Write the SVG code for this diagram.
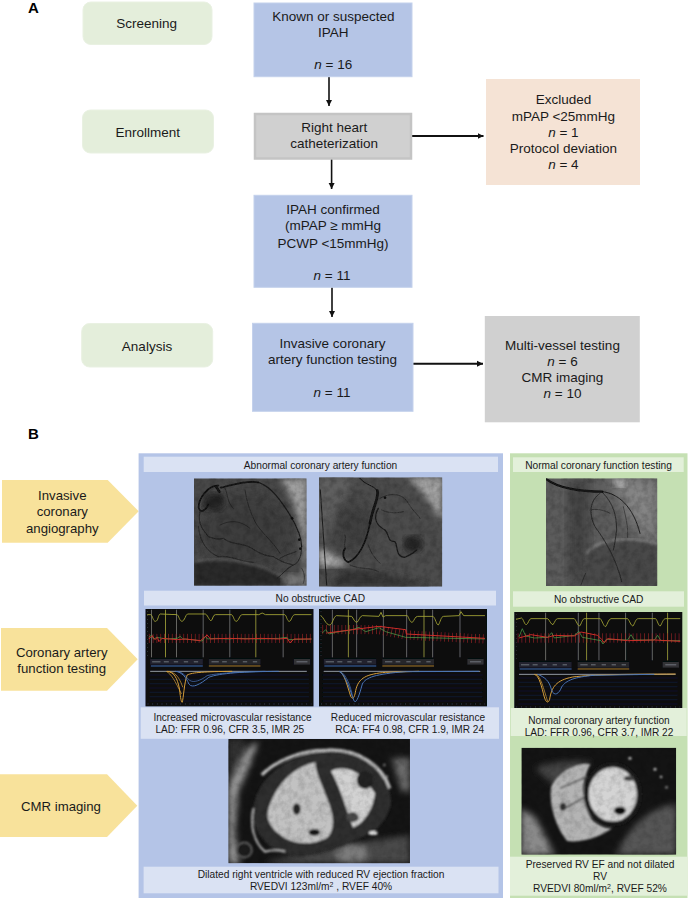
<svg xmlns="http://www.w3.org/2000/svg" width="691" height="900" viewBox="0 0 691 900">
<style>
text{font-family:"Liberation Sans",Arial,sans-serif;fill:#1a1a1a;text-anchor:middle}
.f{font-size:13.5px}.s{font-size:10.2px}.m{font-size:10.1px}.y{font-size:13.2px}
.l{font-size:15px;font-weight:bold;text-anchor:start;fill:#000}
.pill{fill:#E4EEDB;stroke:#E9F1E2}.blue{fill:#B5C5E6;stroke:#C4D1EC}
.strip{fill:#DAE2F3}.gstrip{fill:#E3F0DA}.tag{fill:#F8E29B}
.c{fill:none;stroke:#111;stroke-width:1.6}.ch{fill:none;stroke:#111;stroke-width:2}
.v{fill:none;stroke:#121212;stroke-linecap:round;stroke-linejoin:round}
.yl{fill:none;stroke:#A0A032;stroke-width:2.800}.gl{stroke:#6F6F6A;stroke-width:2.800}.yv{stroke:#8E8E34;stroke-width:3}
.rd{fill:none;stroke:#CC2E28;stroke-width:3}.gn{fill:none;stroke:#4FA048;stroke-width:2.200}
.rc{fill:none;stroke:#A82A26;stroke-width:28;stroke-dasharray:2.500 9;opacity:.75}
.or{fill:none;stroke:#D8A038;stroke-width:3}.bl{fill:none;stroke:#4B74B4;stroke-width:3}
</style>
<defs>
<marker id="ah" markerUnits="userSpaceOnUse" markerWidth="7" markerHeight="7" refX="6" refY="3.5" orient="auto"><path d="M0,.5L6,3.5L0,6.500Z" fill="#111"/></marker>
<filter id="b0" x="-3%" y="-3%" width="106%" height="106%"><feGaussianBlur stdDeviation="1.4"/></filter>
<filter id="bv" x="-5%" y="-5%" width="110%" height="110%"><feGaussianBlur stdDeviation="1.800"/></filter>
<filter id="bm" x="-5%" y="-5%" width="110%" height="110%"><feGaussianBlur stdDeviation="2.600"/></filter>
<filter id="b1" x="-5%" y="-5%" width="110%" height="110%"><feGaussianBlur stdDeviation="4"/></filter>
<filter id="b2" x="-10%" y="-10%" width="120%" height="120%"><feGaussianBlur stdDeviation="9"/></filter>
<filter id="b3" x="-30%" y="-30%" width="160%" height="160%"><feGaussianBlur stdDeviation="22"/></filter>
<filter id="n" x="0" y="0" width="1" height="1" color-interpolation-filters="sRGB"><feTurbulence type="fractalNoise" baseFrequency=".05" numOctaves="3" seed="4"/><feColorMatrix values="0 0 0 0 0 0 0 0 0 0 0 0 0 0 0 1.6 0 0 0 -.6"/></filter>
<clipPath id="ca1"><rect x="12" y="10" width="338" height="322"/></clipPath>
<clipPath id="ca2"><rect x="27" y="22" width="370" height="328"/></clipPath>
<clipPath id="ca3"><rect x="153" y="85" width="334" height="323"/></clipPath>
<clipPath id="cm1"><rect x="10" y="12" width="545" height="373"/></clipPath>
<clipPath id="cm2"><rect x="1092" y="8" width="432" height="321"/></clipPath>
<g id="frame">
<rect width="504" height="292" fill="#07080f"/>
<path d="M12,198H490M12,211H490M12,224H490M12,237H490M12,250H490M12,263H490M12,276H490" stroke="#1a2744" stroke-width="1.6"/>
<path d="M6,285H498" stroke="#565a66" stroke-width="2.4" stroke-dasharray="3 11"/>
<path d="M6,6V140" stroke="#555" stroke-width="2.4" stroke-dasharray="2 10"/>
<path d="M14,187H484" stroke="#AEB6BE" stroke-width="2.6"/>
<rect x="14" y="150" width="158" height="17" fill="#20242f"/><rect x="190" y="150" width="155" height="17" fill="#26262a"/><rect x="445" y="150" width="49" height="17" fill="#303136"/>
<path d="M20,158.500H45M55,158.500H70M85,158.500H98M115,158.500H128M145,158.500H158M198,158.500H220M230,158.500H244M262,158.500H275M292,158.500H305M322,158.500H335M453,158.500H486" stroke="#70747c" stroke-width="3"/>
<path d="M16,171H172" stroke="#4A78C0" stroke-width="2.800"/><path d="M190,171H345" stroke="#C08A30" stroke-width="2.800"/>
</g>
</defs>

<g id="connectors">
<path class="c" d="M329,77V106" marker-end="url(#ah)"/>
<path class="ch" d="M412,136H483.500" marker-end="url(#ah)"/>
<path class="c" d="M331.600,159V189" marker-end="url(#ah)"/>
<path class="c" d="M332,287V317" marker-end="url(#ah)"/>
<path class="ch" d="M413,363.700H483" marker-end="url(#ah)"/>
</g>

<text class="l" x="28" y="13">A</text>
<text class="l" x="28" y="439">B</text>

<g id="screening"><rect class="pill" x="83" y="2" width="129" height="42.500" rx="8"/><text class="f" x="146.600" y="28.300">Screening</text></g>
<g id="enrollment"><rect class="pill" x="82.500" y="110" width="131" height="43" rx="8"/><text class="f" x="147.700" y="136.700">Enrollment</text></g>
<g id="analysis"><rect class="pill" x="81.700" y="323.500" width="131" height="43.500" rx="8"/><text class="f" x="147" y="350.700">Analysis</text></g>

<g id="known"><rect class="blue" x="254" y="3" width="158" height="73.700"/><text class="f" x="333.300" y="20.700">Known or suspected</text><text class="f" x="333.300" y="37.300">IPAH</text><text class="f" x="333.300" y="69.300"><tspan font-style="italic">n</tspan> = 16</text></g>
<g id="rhc"><rect x="255" y="114" width="156" height="44.500" fill="#D0D0D0" stroke="#C4C4C4" stroke-width="2.500"/><text class="f" x="334.200" y="132">Right heart</text><text class="f" x="334.200" y="148">catheterization</text></g>
<g id="excluded"><rect x="486" y="79" width="154" height="106" fill="#F5E3D5"/><text class="f" x="563.400" y="104.300">Excluded</text><text class="f" x="563.400" y="120.700">mPAP &lt;25mmHg</text><text class="f" x="563.400" y="136.700"><tspan font-style="italic">n</tspan> = 1</text><text class="f" x="563.400" y="152.700">Protocol deviation</text><text class="f" x="563.400" y="168.700"><tspan font-style="italic">n</tspan> = 4</text></g>
<g id="confirmed"><rect class="blue" x="254" y="195.300" width="158" height="92"/><text class="f" x="333" y="214">IPAH confirmed</text><text class="f" x="333" y="230">(mPAP ≥ mmHg</text><text class="f" x="333" y="248">PCWP &lt;15mmHg)</text><text class="f" x="332" y="280"><tspan font-style="italic">n</tspan> = 11</text></g>
<g id="invasive"><rect class="blue" x="252.500" y="323.300" width="160.500" height="88"/><text class="f" x="332.500" y="348.300">Invasive coronary</text><text class="f" x="332.500" y="364.300">artery function testing</text><text class="f" x="332" y="396.700"><tspan font-style="italic">n</tspan> = 11</text></g>
<g id="multi"><rect x="484.800" y="316" width="155" height="106.300" fill="#D0D0D0"/><text class="f" x="562.500" y="350">Multi-vessel testing</text><text class="f" x="562.500" y="366"><tspan font-style="italic">n</tspan> = 6</text><text class="f" x="562.500" y="382">CMR imaging</text><text class="f" x="562.500" y="398"><tspan font-style="italic">n</tspan> = 10</text></g>

<g id="tag-angiography"><path class="tag" d="M2,480H107.700L138.700,511.300L107.700,542.700H2Z"/><text class="y" x="62.300" y="500">Invasive</text><text class="y" x="62.300" y="516.300">coronary</text><text class="y" x="62.300" y="532.700">angiography</text></g>
<g id="tag-function"><path class="tag" d="M1,628H107L137.700,659.300L107,690.700H1Z"/><text class="y" x="61.700" y="656.700">Coronary artery</text><text class="y" x="61.700" y="672.700">function testing</text></g>
<g id="tag-cmr"><path class="tag" d="M0,774.300H107L137.300,805.700L107,837H0Z"/><text class="y" x="61" y="811">CMR imaging</text></g>

<g id="panel-abnormal">
<rect x="138.600" y="453.300" width="364.400" height="444.700" fill="#B4C4E7"/>
<rect class="strip" x="143.700" y="456.700" width="354.300" height="15.300"/><text class="s" x="320.500" y="468.500">Abnormal coronary artery function</text>

<g id="angio1" transform="translate(190 475) scale(.3333)"><g clip-path="url(#ca1)">
<rect x="12" y="10" width="338" height="322" fill="#484848"/>
<ellipse cx="170" cy="170" rx="140" ry="120" fill="#3E3E3E" filter="url(#b3)"/>
<path d="M270,10H350V332H336C350,230 330,90 270,10Z" fill="#A0A0A0" filter="url(#b2)"/>
<path d="M12,262C70,245 190,252 275,305L290,332H12Z" fill="#2A2A2A" filter="url(#b1)"/>
<path d="M12,262C70,245 190,252 275,305" fill="none" stroke="#707070" stroke-width="4" filter="url(#b1)"/>
<path d="M280,300C300,290 330,300 350,320V332H280Z" fill="#787878" filter="url(#b2)"/>
<ellipse cx="72" cy="80" rx="32" ry="26" fill="#202020" filter="url(#b2)"/>
<rect x="12" y="10" width="338" height="322" filter="url(#n)" opacity=".25"/>
<g filter="url(#bv)">
<path class="v" stroke-width="5" d="M85,32C55,30 25,70 26,98C30,115 48,108 55,88"/>
<path class="v" stroke-width="5" d="M92,38C125,30 170,15 205,22"/>
<path class="v" stroke-width="3.500" d="M205,22C245,35 275,80 300,120C315,145 335,185 335,215" stroke-opacity=".85"/>
<path class="v" stroke-width="2.500" d="M335,215C335,245 325,265 310,270C290,280 280,295 262,310" stroke-opacity=".8"/>
<path class="v" stroke-width="2.400" d="M30,110C20,150 45,170 55,185C70,190 85,195 100,190C120,205 140,205 160,210C190,215 200,240 250,245C290,270 300,265 310,270" stroke-opacity=".8"/>
<path class="v" stroke-width="2.200" d="M25,155C30,200 50,230 85,245C120,240 150,260 190,262" stroke-opacity=".7"/>
<path class="v" stroke-width="2" d="M165,45C170,80 180,110 195,140C210,170 250,200 270,235" stroke-opacity=".6"/>
<path class="v" stroke-width="2" d="M105,40C115,60 110,80 130,100M90,150C120,135 150,135 180,160" stroke-opacity=".55"/>
<path class="v" stroke-width="2" d="M335,280C345,295 345,310 340,325M318,230C305,235 285,240 270,250" stroke-opacity=".7"/>
<circle cx="306" cy="130" r="4" fill="#111"/><circle cx="328" cy="194" r="4" fill="#111"/><circle cx="331" cy="221" r="4" fill="#111"/>
<path class="v" stroke-width="8" d="M78,34L88,50"/>
</g></g></g>

<g id="angio2" transform="translate(310 470) scale(.3333)"><g clip-path="url(#ca2)">
<rect x="27" y="22" width="370" height="328" fill="#4C4C4C"/>
<path d="M290,22H397V160C370,110 340,60 290,22Z" fill="#A4A4A4" filter="url(#b2)"/>
<path d="M27,22H130L50,200L27,220Z" fill="#5E5E5E" filter="url(#b2)"/>
<path d="M27,230L120,285L40,290L27,290Z" fill="#B0B0B0" filter="url(#b2)"/>
<path d="M100,300C200,300 300,330 370,350H60Z" fill="#363636" filter="url(#b2)"/>
<ellipse cx="310" cy="222" rx="28" ry="24" fill="#242424" filter="url(#b2)"/>
<ellipse cx="130" cy="170" rx="50" ry="70" fill="#3c3c3c" filter="url(#b3)"/>
<rect x="27" y="22" width="370" height="328" filter="url(#n)" opacity=".25"/>
<g filter="url(#bv)">
<path class="v" stroke-width="3" d="M31,60L50,345" stroke-opacity=".85"/>
<path class="v" stroke-width="3" d="M150,25C165,45 190,45 202,62"/>
<path class="v" stroke-width="8" d="M202,62C208,85 188,110 180,160"/>
<path class="v" stroke-width="5" d="M180,160C170,210 150,260 115,277C100,270 95,250 105,235"/>
<path class="v" stroke-width="3.500" d="M205,115C190,140 195,165 225,180C240,195 230,215 255,215C265,230 255,260 285,262C300,255 310,250 320,240" stroke-opacity=".85"/>
<path class="v" stroke-width="2" d="M210,85C235,70 275,65 295,100C310,125 325,135 330,145M215,120C235,130 260,130 280,125M175,225C180,240 185,255 210,280M120,285C150,300 180,290 205,305M105,235C100,220 110,205 105,195" stroke-opacity=".65"/>
<circle cx="225" cy="83" r="4" fill="#111"/>
</g></g></g>

<rect class="strip" x="144" y="590.700" width="352" height="14.800"/><text class="s" x="320.300" y="602">No obstructive CAD</text>

<g id="chart1" transform="translate(145.500 609) scale(.3333)" filter="url(#b0)">
<use href="#frame"/>
<path class="gl" d="M18,2V145M93,2V145M173,2V145M253,2V145M413,2V145"/><path class="yv" d="M60,2V145M331,2V145"/>
<path class="yl" d="M5,17H16C22,20 22,37 30,37C38,37 38,17 44,15L95,17C100,20 102,37 110,37C118,35 120,17 126,15L178,15C186,14 190,35 197,35C203,30 202,17 210,17H258C264,20 266,37 272,37C280,37 282,17 290,17L340,17L350,12L360,17H418C424,20 424,37 432,37C438,35 440,17 448,17H498"/>
<path class="rc" d="M10,88H498"/>
<path class="gn" d="M10,85L18,78L24,90L35,85L60,90L95,88L104,82L112,90L140,92L170,96L180,82L186,90L210,88L250,90L280,88L340,90L400,88L424,85L430,92L498,90"/>
<path class="rd" d="M10,90L20,80L28,92L36,85L40,98L50,88L95,92L120,90L165,95L185,78L195,90L250,88L300,90L345,88L400,90L425,88L434,102L445,90L498,90"/>
<path class="or" d="M65,187C85,190 95,205 102,240C105,270 108,280 110,280C114,270 116,220 125,198C140,190 180,188 260,187"/>
<path class="or" stroke-opacity=".7" d="M62,187C78,195 88,215 108,255M70,187C85,192 98,195 112,235"/>
<path class="bl" d="M90,187C110,190 122,205 130,225C140,240 165,225 190,205C220,192 300,188 400,187"/>
<path class="bl" stroke-opacity=".75" d="M95,187C115,190 122,205 132,214C145,222 165,215 185,200C215,192 280,189 360,187"/>
</g>

<g id="chart2" transform="translate(319 609) scale(.3333)" filter="url(#b0)">
<use href="#frame"/>
<path class="gl" d="M40,2V145M113,2V145M193,2V145M263,2V145M341,2V145M423,2V145"/><path class="yv" d="M88,2V145M315,2V145"/>
<path class="yl" d="M5,20C15,25 20,48 32,48C42,45 42,25 52,20L98,22C104,28 106,40 114,40C120,35 122,22 130,20L180,22L186,10L192,24L200,20H265C270,26 272,40 280,40C286,35 288,22 296,22H342C350,28 352,48 358,48C364,40 366,22 374,22L420,20L426,8L434,20H498"/>
<path class="rc" d="M10,62L180,62L260,78L498,90"/>
<path class="gn" d="M10,72L20,62L30,75L50,70L100,62L120,55L140,68L180,56L200,68L260,85L498,90"/>
<path class="rd" d="M25,72L100,62L180,52L260,62L262,75L498,88"/>
<path class="or" d="M60,187C75,190 85,230 95,262C100,272 106,270 110,245C118,205 145,195 200,190L300,187"/>
<path class="bl" d="M60,187C80,195 95,250 105,275C110,285 118,270 130,225C140,205 170,195 260,188L480,187"/>
<path class="bl" stroke-opacity=".7" d="M62,187C82,193 98,240 100,262"/>
</g>

<rect class="strip" x="140.700" y="707.300" width="358.300" height="31.500"/>
<text class="m" x="232.500" y="721">Increased microvascular resistance</text><text class="m" x="229.800" y="733.300">LAD: FFR 0.96, CFR 3.5, IMR 25</text>
<text class="m" x="408" y="721">Reduced microvascular resistance</text><text class="m" x="409.700" y="733.300">RCA: FF4 0.98, CFR 1.9, IMR 24</text>

<g id="mri1" transform="translate(225 735) scale(.3333)"><g clip-path="url(#cm1)">
<rect x="10" y="12" width="545" height="373" fill="#141414"/>
<g filter="url(#b2)">
<path d="M10,150L40,90L70,35L100,20L75,90L40,170L30,290L45,385H10Z" fill="#979797"/>
<path d="M10,12H60L50,60L10,130Z" fill="#303030"/>
<path d="M120,385C200,350 300,355 420,320L555,300V385Z" fill="#4a4a4a"/>
<path d="M500,70H555V170H530Z" fill="#6a6a6a"/>
<ellipse cx="380" cy="355" rx="50" ry="30" fill="#7c7c7c"/>
</g>
<g filter="url(#bm)">
<path d="M85,250C75,150 170,55 310,48C420,42 490,110 498,195C500,230 470,275 440,295C370,325 320,345 250,360C170,370 100,330 85,250Z" fill="#2E2E2E"/>
<path d="M110,120C160,70 240,45 310,45C400,42 470,90 495,160" fill="none" stroke="#B8B8B8" stroke-width="10"/>
<path d="M85,220C75,270 85,320 120,350C140,345 160,345 180,350" fill="none" stroke="#A6A6A6" stroke-width="7"/>
<path d="M128,230C150,150 205,95 272,82C268,105 292,150 310,200C330,250 330,295 300,312C250,335 190,325 160,295C140,280 124,255 128,230Z" fill="#C2C2C2"/>
<path d="M318,108C350,92 395,102 425,140L450,175C445,222 420,262 385,278C368,240 352,170 318,108Z" fill="#D2D2D2"/>
<ellipse cx="420" cy="135" rx="25" ry="27" fill="#222"/>
<ellipse cx="382" cy="247" rx="19" ry="15" fill="#484848"/>
<ellipse cx="215" cy="222" rx="12" ry="17" fill="#282828"/>
<ellipse cx="268" cy="292" rx="17" ry="10" fill="#181818"/>
<circle cx="58" cy="345" r="23" fill="#1c1c1c" stroke="#606060" stroke-width="5"/>
<ellipse cx="445" cy="294" rx="13" ry="6" fill="#eee"/>
<circle cx="485" cy="125" r="4" fill="#999"/><circle cx="478" cy="90" r="4" fill="#888"/>
</g>
<rect x="10" y="12" width="545" height="373" filter="url(#n)" opacity=".18"/>
</g></g>

<rect class="strip" x="143.600" y="866.700" width="354.900" height="26.600"/>
<text class="s" x="321" y="877.700">Dilated right ventricle with reduced RV ejection fraction</text>
<text class="s" x="321" y="889.700">RVEDVI 123ml/m<tspan font-size="7" dy="-3">2</tspan><tspan dy="3"> , RVEF 40%</tspan></text>
</g>

<g id="panel-normal">
<rect x="510" y="453.300" width="177.500" height="444.700" fill="#C5E0B3"/>
<rect class="gstrip" x="513" y="457.300" width="170.700" height="14.700"/><text class="s" x="598.500" y="469">Normal coronary function testing</text>

<g id="angio3" transform="translate(495 450) scale(.3333)"><g clip-path="url(#ca3)">
<rect x="153" y="85" width="334" height="323" fill="#5C5C5C"/>
<path d="M225,85H280L275,408H225Z" fill="#3e3e3e" filter="url(#b3)"/>
<path d="M340,85H487V300L420,230Z" fill="#868686" filter="url(#b3)"/>
<ellipse cx="375" cy="100" rx="18" ry="11" fill="#c8c8c8" filter="url(#b2)"/>
<path d="M275,310C310,265 410,258 487,282V408H265Z" fill="#4a4a4a" filter="url(#b1)"/>
<path d="M275,310C310,265 410,258 487,282" fill="none" stroke="#9c9c9c" stroke-width="4" filter="url(#b1)"/>
<rect x="153" y="85" width="334" height="323" filter="url(#n)" opacity=".25"/>
<g filter="url(#bv)">
<path class="v" stroke-width="7" d="M155,88C190,115 260,125 322,125"/>
<path class="v" stroke-width="3" d="M322,125C370,130 415,170 435,250" stroke-opacity=".85"/>
<path class="v" stroke-width="2.500" d="M315,130C285,150 280,190 300,230C330,270 365,330 380,395" stroke-opacity=".8"/>
<path class="v" stroke-width="2.500" d="M320,125C345,150 365,180 365,240C362,260 360,280 355,300" stroke-opacity=".8"/>
<path class="v" stroke-width="2" d="M285,180C300,175 330,180 345,190M272,370C265,385 262,395 258,405M385,170C392,200 400,230 398,262" stroke-opacity=".6"/>
</g></g></g>

<rect class="gstrip" x="513" y="591.300" width="171" height="15.400"/><text class="s" x="598.700" y="603.300">No obstructive CAD</text>

<g id="chart3" transform="translate(514.300 612) scale(.3333)" filter="url(#b0)">
<use href="#frame"/>
<path class="gl" d="M94,2V145M192,2V145M254,2V145M334,2V145M414,2V145"/><path class="yv" d="M217,2V145M460,2V145"/>
<path class="yl" d="M5,22L22,18C28,22 30,38 36,38C42,36 44,20 50,20L100,20C106,24 110,38 116,38C122,30 124,20 130,20H180C186,26 190,42 196,42C202,36 204,18 212,20H258C264,26 268,44 274,44C280,36 282,22 290,20H340C346,26 350,42 356,42C362,34 364,20 372,20H424C430,26 432,42 438,42C444,34 446,20 454,20H498"/>
<path class="rc" d="M10,78H498"/>
<path class="gn" d="M14,75L24,50L34,72L60,78L100,76L112,62L120,78L180,70L194,58L204,76L260,86L266,96L276,82L340,84L350,68L360,84L420,84L430,70L440,86L498,86"/>
<path class="rd" d="M14,78L50,68L100,76L120,70L180,72L200,60L250,70L262,82L270,92L280,80L340,86L420,84L498,88"/>
<path class="or" d="M60,187C75,190 82,225 90,255C95,272 102,275 106,262C112,225 125,205 175,195C240,187 330,187 484,186"/>
<path class="or" stroke-opacity=".7" d="M65,187C78,190 88,230 100,268"/>
<path class="bl" d="M70,187C90,195 105,205 112,235C120,255 135,245 142,225C155,205 180,195 240,190L420,187"/>
</g>

<rect class="gstrip" x="510.700" y="708" width="176" height="28"/>
<text class="m" x="599" y="724.300">Normal coronary artery function</text><text class="m" x="599" y="736">LAD: FFR 0.96, CFR 3.7, IMR 22</text>

<g id="mri2" transform="translate(130 745) scale(.3584 .3333)"><g clip-path="url(#cm2)">
<rect x="1092" y="8" width="432" height="321" fill="#141414"/>
<g filter="url(#b2)">
<path d="M1092,190L1130,215L1185,329H1092Z" fill="#8a8a8a"/>
<path d="M1370,300C1420,205 1490,180 1524,178V329H1355Z" fill="#565656"/>
<path d="M1130,70C1170,50 1230,45 1290,50L1180,120Z" fill="#444"/>
</g>
<g filter="url(#bm)">
<path d="M1175,125C1200,70 1260,50 1285,58C1258,110 1258,170 1290,225C1310,245 1330,250 1345,250C1320,270 1270,295 1220,288C1190,250 1168,180 1175,125Z" fill="#B4B4B4"/>
<path d="M1200,130L1275,95M1205,195L1280,150" stroke="#555" stroke-width="5" fill="none"/>
<ellipse cx="1347" cy="148" rx="74" ry="88" fill="#D4D4D4" stroke="#1c1c1c" stroke-width="13"/>
<ellipse cx="1367" cy="197" rx="16" ry="12" fill="#0c0c0c"/>
<ellipse cx="1392" cy="100" rx="14" ry="8" fill="#444"/>
<circle cx="1395" cy="40" r="4" fill="#ddd"/><circle cx="1465" cy="73" r="4" fill="#ddd"/><circle cx="1482" cy="96" r="3.500" fill="#ccc"/><circle cx="1497" cy="127" r="3.500" fill="#bbb"/>
<ellipse cx="1208" cy="185" rx="9" ry="12" fill="#333"/>
</g>
<rect x="1092" y="8" width="432" height="321" filter="url(#n)" opacity=".18"/>
</g></g>

<rect class="gstrip" x="510" y="856.700" width="177.500" height="39"/>
<text class="s" x="600" y="867.700">Preserved RV EF and not dilated</text><text class="s" x="600" y="879.700">RV</text>
<text class="s" x="600" y="891.700">RVEDVI 80ml/m<tspan font-size="7" dy="-3">2</tspan><tspan dy="3">, RVEF 52%</tspan></text>
</g>
</svg>
